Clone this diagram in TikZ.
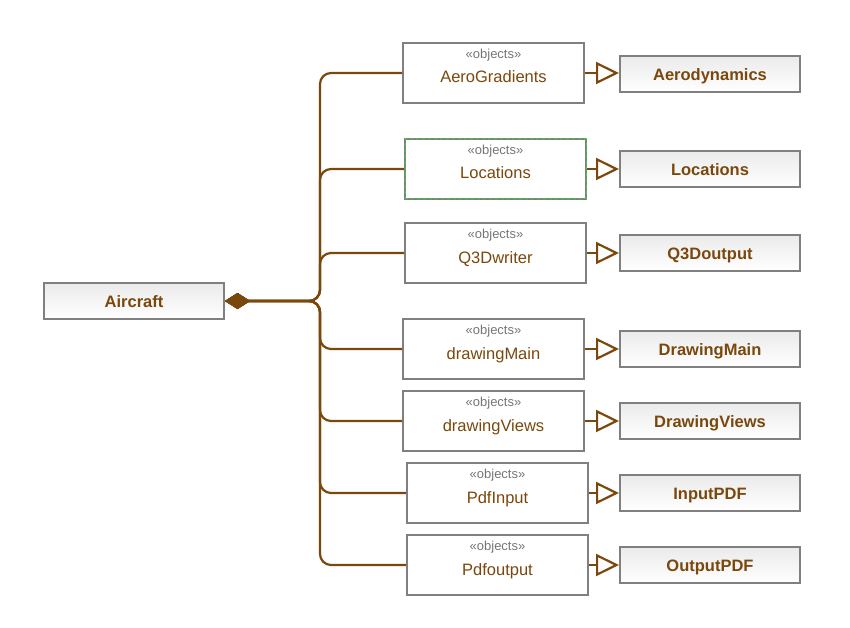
\documentclass[tikz,border=0pt]{standalone}
\usepackage{fontspec}
\setmainfont{Liberation Sans}
\usetikzlibrary{positioning, arrows.meta, shadings}

\definecolor{umlbrown}{RGB}{122,72,12}
\definecolor{umlgray}{RGB}{128,128,128}
\definecolor{stereogray}{RGB}{118,118,118}
\definecolor{dashgreen}{RGB}{40,220,40}

\begin{document}
\begin{tikzpicture}[
    x=1pt, y=-1pt,
    classbox/.style={draw=umlgray, line width=2pt, top color=gray!16, bottom color=white,
        minimum width=180pt, minimum height=36pt, inner sep=0pt,
        text height=16pt, text depth=3pt,
        font=\fontsize{16.5}{19}\selectfont\bfseries, text=umlbrown},
    objbox/.style={draw=umlgray, line width=2pt, fill=white,
        minimum width=181pt, minimum height=60pt, inner sep=0pt,
        text height=24pt, text depth=4pt,
        font=\fontsize{16.5}{19}\selectfont, text=umlbrown,
        label={[stereo]north:«objects»}},
    stereo/.style={anchor=north, inner sep=7pt, font=\fontsize{13}{15}\selectfont, text=stereogray},
    selected/.style={postaction={draw=dashgreen, dashed, line width=1pt}},
    part/.style={draw=umlbrown, line width=2.2pt, rounded corners=11pt,
        {Diamond[length=25pt, width=16pt]}-},
    realize/.style={draw=umlbrown, line width=2.2pt,
        -{Triangle[open, length=23pt, width=22pt]}}
]
\useasboundingbox (0,0) rectangle (850,628);

% === OWNER ===
\node[classbox] (air) at (134,301) {Aircraft};
\coordinate (bus) at (320,301);

% === OBJECTS ===
\node[objbox] (ag) at (493.5,73) {AeroGradients};
\node[objbox, selected] (loc) at (495.5,169) {Locations};
\node[objbox] (q3d) at (495.5,253) {Q3Dwriter};
\node[objbox] (dmain) at (493.5,349) {drawingMain};
\node[objbox] (dviews) at (493.5,421) {drawingViews};
\node[objbox] (pin) at (497.5,493) {PdfInput};
\node[objbox] (pout) at (497.5,565) {Pdfoutput};

% === TYPES ===
\node[classbox] (aero) at (710,74) {Aerodynamics};
\node[classbox] (loct) at (710,169) {Locations};
\node[classbox] (q3do) at (710,253) {Q3Doutput};
\node[classbox] (dmt) at (710,349) {DrawingMain};
\node[classbox] (dvt) at (710,421) {DrawingViews};
\node[classbox] (ipdf) at (710,493) {InputPDF};
\node[classbox] (opdf) at (710,565) {OutputPDF};

% composition links
\draw[part] (air.east) -- (bus) |- (ag.west);
\draw[part] (air.east) -- (bus) |- (loc.west);
\draw[part] (air.east) -- (bus) |- (q3d.west);
\draw[part] (air.east) -- (bus) |- (dmain.west);
\draw[part] (air.east) -- (bus) |- (dviews.west);
\draw[part] (air.east) -- (bus) |- (pin.west);
\draw[part] (air.east) -- (bus) |- (pout.west);

% typed-by links
\draw[realize] (ag.east) -- (ag.east -| aero.west);
\draw[realize] (loc.east) -- (loct.west);
\draw[realize] (q3d.east) -- (q3do.west);
\draw[realize] (dmain.east) -- (dmt.west);
\draw[realize] (dviews.east) -- (dvt.west);
\draw[realize] (pin.east) -- (ipdf.west);
\draw[realize] (pout.east) -- (opdf.west);

\end{tikzpicture}
\end{document}
